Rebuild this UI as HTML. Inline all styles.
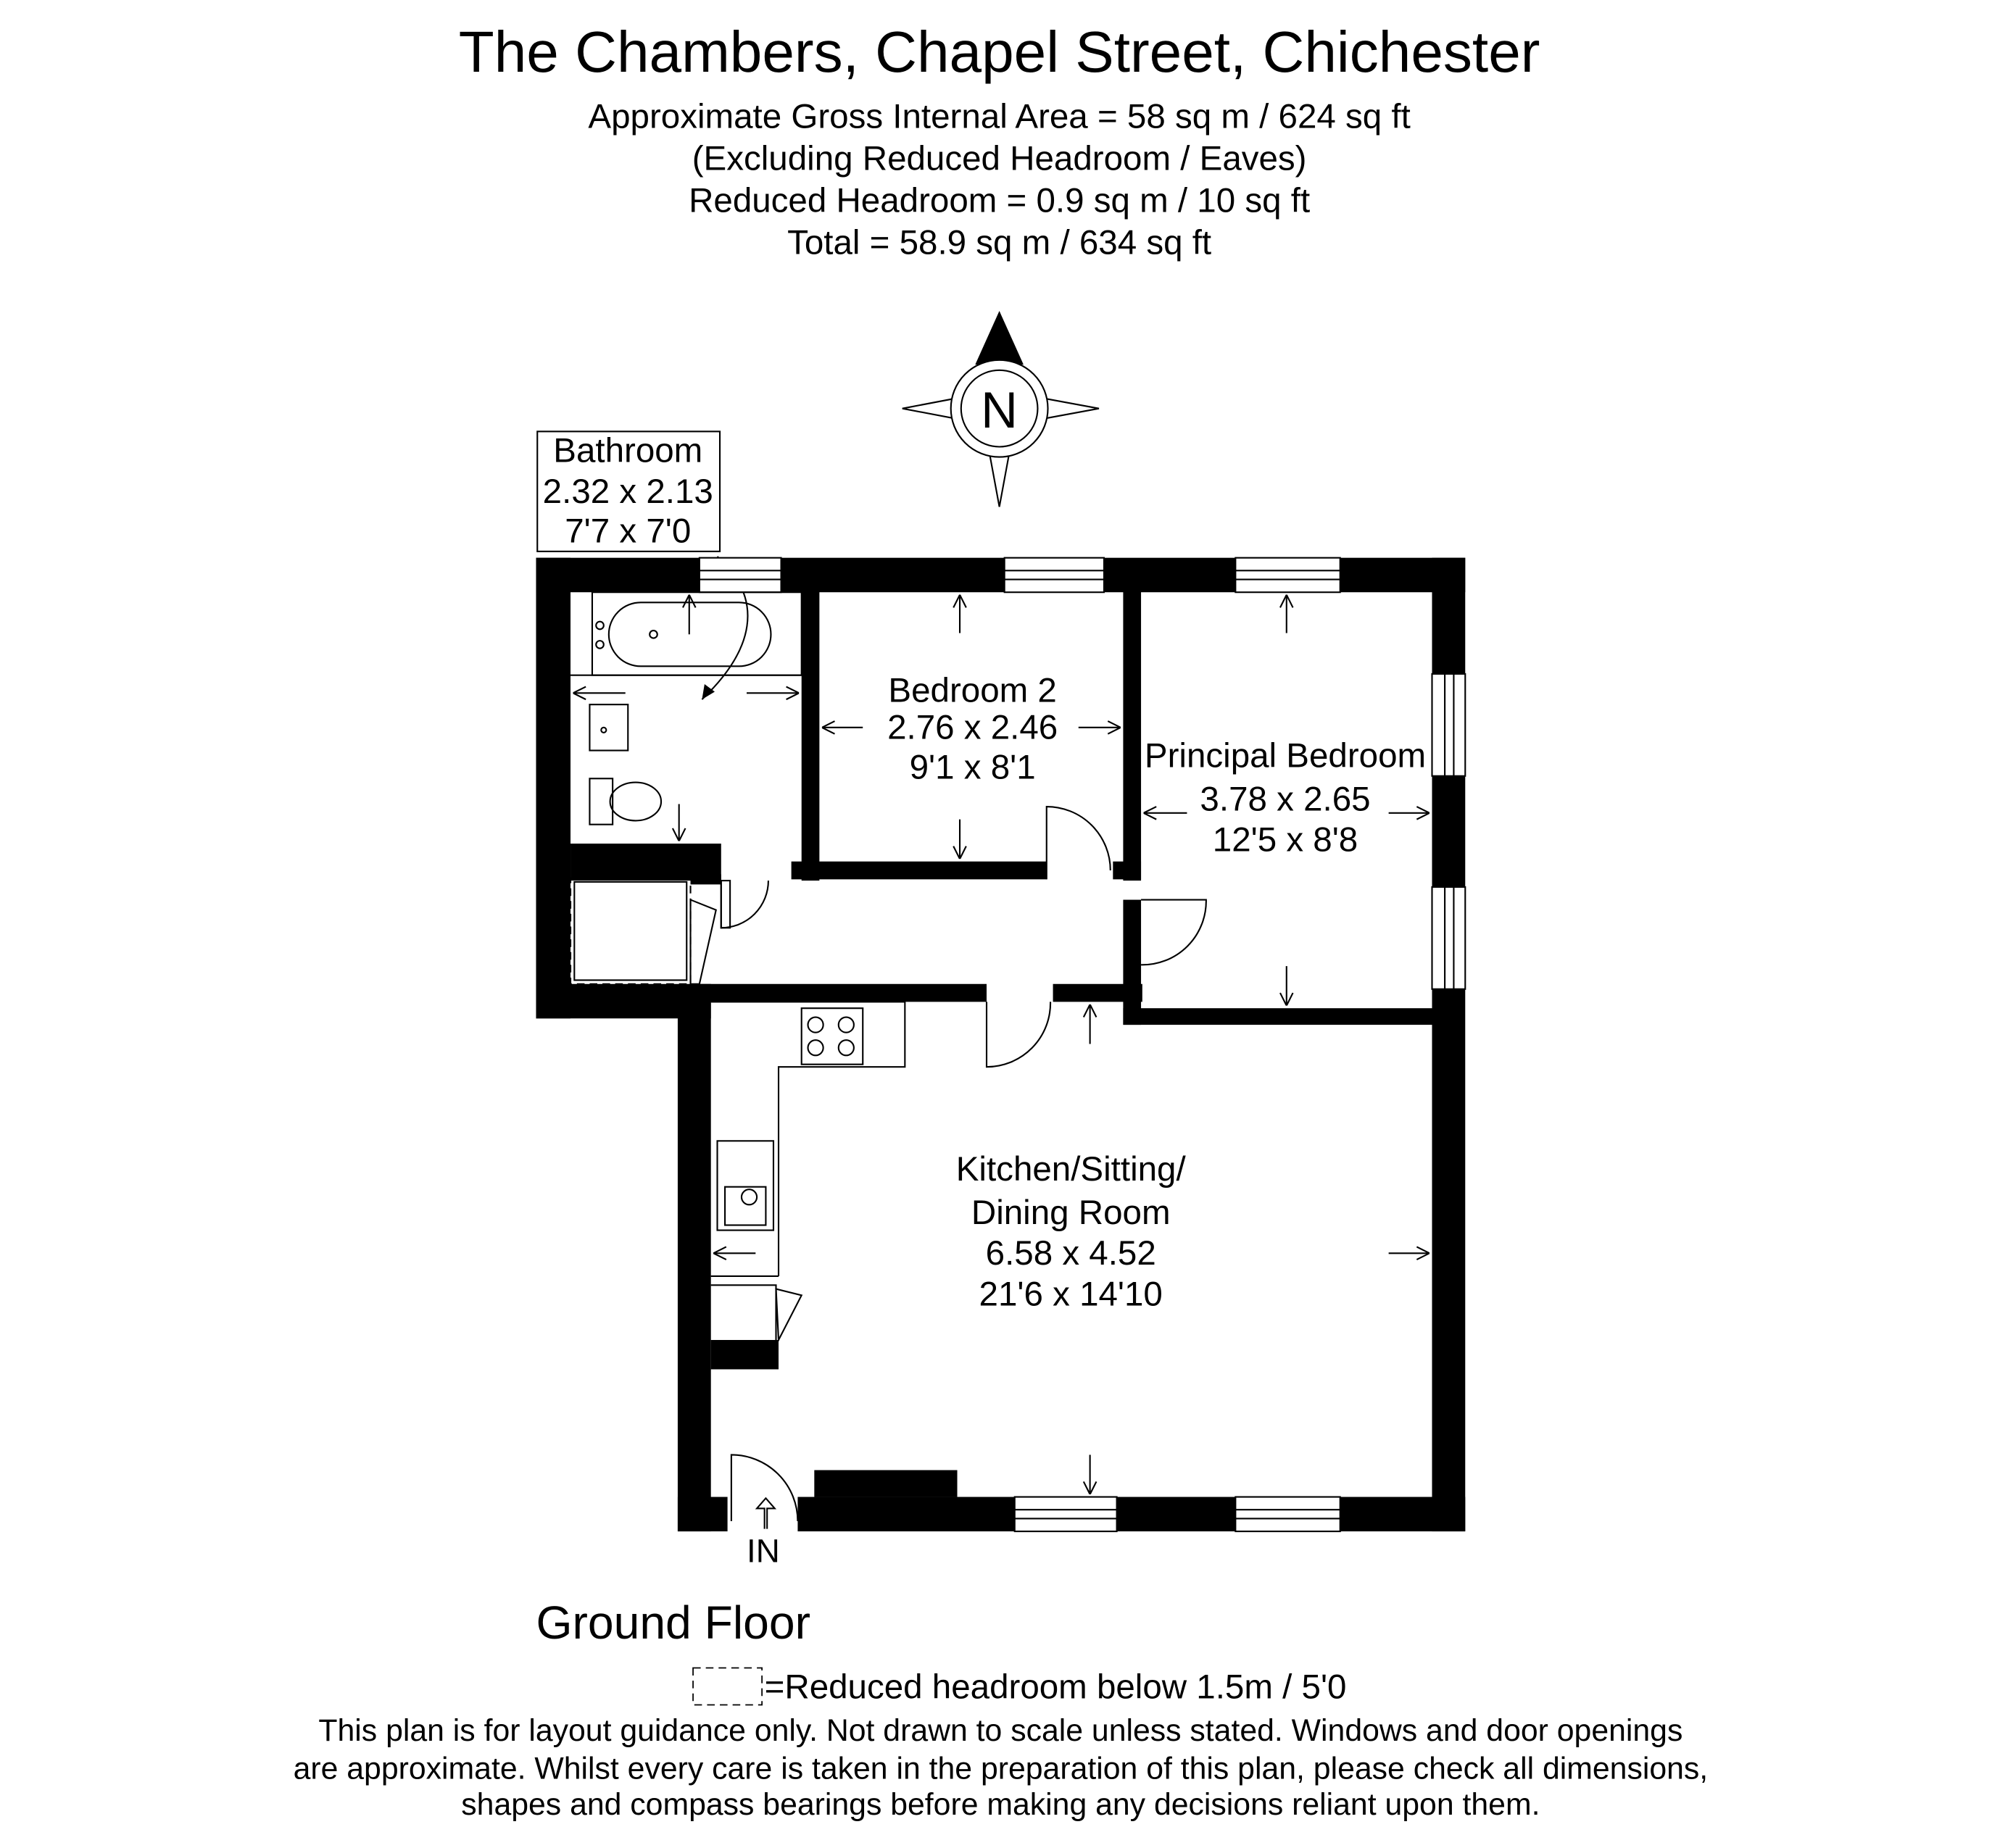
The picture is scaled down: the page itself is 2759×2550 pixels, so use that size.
<!DOCTYPE html>
<html><head><meta charset="utf-8"><style>
html,body{margin:0;padding:0;background:#fff}
svg{display:block}
text{font-family:"Liberation Sans",sans-serif;fill:#000}
</style></head><body>
<svg width="2759" height="2550" viewBox="0 0 1567 1448" xmlns="http://www.w3.org/2000/svg">
<defs><marker id="a" viewBox="0 0 12 12" refX="0" refY="6" markerWidth="12" markerHeight="12" orient="auto" markerUnits="userSpaceOnUse"><path d="M10,1 L0,6 L10,11" fill="none" stroke="#000" stroke-width="1.2"/></marker></defs>
<g text-anchor="middle">
<text x="783" y="56" font-size="45.5">The Chambers, Chapel Street, Chichester</text>
<text x="783" y="100" font-size="27">Approximate Gross Internal Area = 58 sq m / 624 sq ft</text>
<text x="783" y="133" font-size="27">(Excluding Reduced Headroom / Eaves)</text>
<text x="783" y="166" font-size="27">Reduced Headroom = 0.9 sq m / 10 sq ft</text>
<text x="783" y="199" font-size="27">Total = 58.9 sq m / 634 sq ft</text>
</g>
<g stroke="#000" stroke-width="1.2" fill="#fff">
<polygon points="783,245 795,308 783,320 771,308"/>
<polygon points="783,397 795,332 783,320 771,332"/>
<polygon points="707,320 770,308 783,320 770,332"/>
<polygon points="861,320 796,308 783,320 796,332"/>
<polygon points="783,245 801,285 765,285" fill="#000"/>
<circle cx="783" cy="320" r="38"/>
<circle cx="783" cy="320" r="30"/>
</g>
<text x="783" y="335" font-size="40" text-anchor="middle">N</text>
<rect x="421" y="338" width="143" height="94" fill="#fff" stroke="#000" stroke-width="1.2"/>
<g text-anchor="middle" font-size="27">
<text x="492" y="362">Bathroom</text>
<text x="492" y="394">2.32 x 2.13</text>
<text x="492" y="425">7'7 x 7'0</text>
</g>
<path d="M562,436 C600,470 590,510 550,548" fill="none" stroke="#000" stroke-width="1.2"/>
<polygon points="550,548 552,536 560,542"/>
<g fill="#000">
<rect x="420" y="437" width="728" height="27"/>
<rect x="420" y="437" width="27" height="361"/>
<rect x="420" y="771" width="137" height="27"/>
<rect x="531" y="785" width="26" height="415"/>
<rect x="531" y="1173" width="39" height="27"/>
<rect x="625" y="1173" width="523" height="27"/>
<rect x="1122" y="437" width="26" height="763"/>
<rect x="628" y="463" width="14" height="227"/>
<rect x="620" y="675" width="200" height="14"/>
<rect x="872" y="675" width="22" height="14"/>
<rect x="880" y="463" width="14" height="227"/>
<rect x="880" y="705" width="14" height="98"/>
<rect x="880" y="790" width="242" height="13"/>
<rect x="541" y="771" width="232" height="14"/>
<rect x="825" y="771" width="70" height="14"/>
<rect x="447" y="661" width="118" height="29"/>
<rect x="541" y="685" width="24" height="8"/>
<rect x="557" y="1050" width="53" height="23"/>
<rect x="638" y="1152" width="112" height="21"/>
</g>
<g fill="#fff" stroke="#000" stroke-width="1.2">
<rect x="548" y="437" width="64" height="27"/><line x1="548" y1="447" x2="612" y2="447"/><line x1="548" y1="454" x2="612" y2="454"/>
<rect x="787" y="437" width="78" height="27"/><line x1="787" y1="447" x2="865" y2="447"/><line x1="787" y1="454" x2="865" y2="454"/>
<rect x="968" y="437" width="82" height="27"/><line x1="968" y1="447" x2="1050" y2="447"/><line x1="968" y1="454" x2="1050" y2="454"/>
<rect x="795" y="1173" width="80" height="27"/><line x1="795" y1="1183" x2="875" y2="1183"/><line x1="795" y1="1190" x2="875" y2="1190"/>
<rect x="968" y="1173" width="82" height="27"/><line x1="968" y1="1183" x2="1050" y2="1183"/><line x1="968" y1="1190" x2="1050" y2="1190"/>
<rect x="1122" y="528" width="26" height="80"/><line x1="1132" y1="528" x2="1132" y2="608"/><line x1="1139" y1="528" x2="1139" y2="608"/>
<rect x="1122" y="695" width="26" height="80"/><line x1="1132" y1="695" x2="1132" y2="775"/><line x1="1139" y1="695" x2="1139" y2="775"/>
</g>
<g fill="none" stroke="#000" stroke-width="1.2">
<rect x="464" y="464" width="164" height="65"/>
<rect x="477" y="472" width="127" height="50" rx="25"/>
<line x1="447" y1="529" x2="628" y2="529"/>
<rect x="462" y="552" width="30" height="36"/>
<rect x="462" y="610" width="18" height="36"/>
<ellipse cx="498" cy="628" rx="20" ry="15"/>
<rect x="447" y="688" width="94" height="83" stroke-dasharray="6,4"/>
<rect x="450" y="691" width="88" height="77"/>
<polygon points="541,705 561,713 548,771 541,771"/>
<path d="M565,690 L565,727 A37,37 0 0 0 602,690"/>
<rect x="565" y="690" width="7" height="37"/>
<path d="M820,689 L820,632 A50,50 0 0 1 870,682"/>
<path d="M894,705 L945,705 A50,50 0 0 1 894,756"/>
<path d="M773,785 L773,836 A50,50 0 0 0 823,785"/>
<polyline points="557,785 709,785 709,836 610,836 610,1000"/>
<rect x="628" y="790" width="48" height="44"/>
<circle cx="639" cy="803" r="6"/><circle cx="663" cy="803" r="6"/><circle cx="639" cy="821" r="6"/><circle cx="663" cy="821" r="6"/>
<rect x="562" y="894" width="44" height="70"/>
<rect x="568" y="930" width="32" height="30"/>
<line x1="557" y1="1000" x2="610" y2="1000"/>
<polyline points="557,1007 608,1007 608,1050"/>
<polygon points="608,1010 628,1015 610,1050"/>
<path d="M573,1192 L573,1140 A52,52 0 0 1 625,1192"/>
<circle cx="470" cy="490" r="3"/><circle cx="470" cy="505" r="3"/><circle cx="512" cy="497" r="3"/>
<circle cx="473" cy="572" r="2"/><circle cx="587" cy="938" r="6"/>
</g>
<g stroke="#000" stroke-width="1.2" marker-start="url(#a)">
<line x1="540" y1="466" x2="540" y2="497"/><line x1="449" y1="543" x2="490" y2="543"/><line x1="626" y1="543" x2="585" y2="543"/>
<line x1="532" y1="659" x2="532" y2="630"/>
<line x1="752" y1="466" x2="752" y2="496"/><line x1="752" y1="673" x2="752" y2="642"/>
<line x1="644" y1="570" x2="676" y2="570"/><line x1="878" y1="570" x2="845" y2="570"/>
<line x1="1008" y1="466" x2="1008" y2="496"/><line x1="1008" y1="788" x2="1008" y2="757"/>
<line x1="896" y1="637" x2="930" y2="637"/><line x1="1120" y1="637" x2="1088" y2="637"/>
<line x1="854" y1="787" x2="854" y2="818"/><line x1="854" y1="1171" x2="854" y2="1140"/>
<line x1="559" y1="982" x2="592" y2="982"/><line x1="1120" y1="982" x2="1088" y2="982"/>
</g>
<path d="M599,1198 L599,1182 L593,1182 L600,1174 L607,1182 L601,1182 L601,1198" fill="none" stroke="#000" stroke-width="1.2"/>
<g text-anchor="middle" font-size="27">
<text x="762" y="550">Bedroom 2</text><text x="762" y="579">2.76 x 2.46</text><text x="762" y="610">9'1 x 8'1</text>
<text x="1007" y="601">Principal Bedroom</text><text x="1007" y="635">3.78 x 2.65</text><text x="1007" y="667">12'5 x 8'8</text>
<text x="839" y="925">Kitchen/Sitting/</text><text x="839" y="959">Dining Room</text><text x="839" y="991">6.58 x 4.52</text><text x="839" y="1023">21'6 x 14'10</text>
<text x="598" y="1224" font-size="26">IN</text>
</g>
<text x="420" y="1284" font-size="36.5">Ground Floor</text>
<rect x="543" y="1307" width="54" height="29" fill="none" stroke="#000" stroke-width="1" stroke-dasharray="6,4"/>
<text x="599" y="1331" font-size="27">=Reduced headroom below 1.5m / 5'0</text>
<g text-anchor="middle" font-size="24.3">
<text x="784" y="1364">This plan is for layout guidance only. Not drawn to scale unless stated. Windows and door openings</text>
<text x="784" y="1394">are approximate. Whilst every care is taken in the preparation of this plan, please check all dimensions,</text>
<text x="784" y="1422">shapes and compass bearings before making any decisions reliant upon them.</text>
</g>
</svg>
</body></html>
